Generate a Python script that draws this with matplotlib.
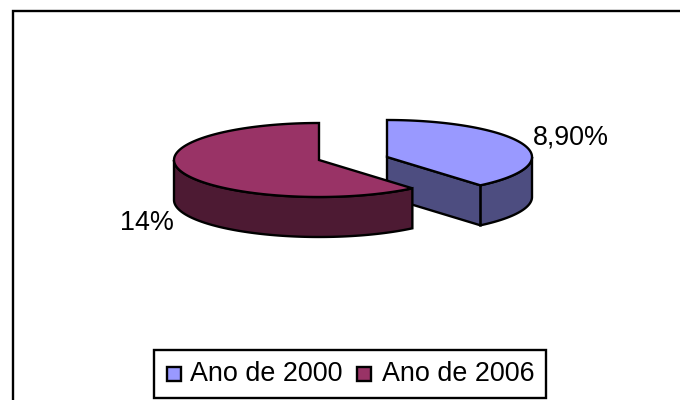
import numpy as np
import matplotlib
matplotlib.use('Agg')
import matplotlib.pyplot as plt
from matplotlib.patches import Polygon, Rectangle

plt.rcParams['font.family'] = ['Liberation Sans', 'DejaVu Sans']

# Data
categories = ['Ano de 2000', 'Ano de 2006']
values = [8.9, 14]
value_labels = ['8,90%', '14%']
top_colors = ['#9999ff', '#993366']
side_colors = ['#4d4d80', '#4d1a33']

W, H = 680, 400
RX, RY = 145, 37
DEPTH = 40
LW = 1.7
FONT = 19.4

fig = plt.figure(figsize=(W / 100, H / 100), dpi=100)
ax = fig.add_axes([0, 0, 1, 1])
ax.set_xlim(0, W)
ax.set_ylim(H, 0)
ax.axis('off')

# Outer frame, right and bottom edges fall outside the picture
ax.add_patch(Rectangle((13, 11), 700, 420, fc='white', ec='black', lw=LW))


def rim(cx, cy, a0, a1, n=120):
    # angles in degrees, clockwise from 12 o'clock
    t = np.radians(np.linspace(a0, a1, n))
    return np.column_stack([cx + RX * np.sin(t), cy - RY * np.cos(t)])


def draw_slice(cx, cy, a0, a1, top, side, z):
    c = (cx, cy)
    edge = rim(cx, cy, a0, a1)
    # outer wall, only the part facing the viewer (90..270 deg)
    lo, hi = max(a0, 90), min(a1, 270)
    if lo < hi:
        wall = rim(cx, cy, lo, hi)
        low = wall + [0, DEPTH]
        ax.add_patch(Polygon(np.vstack([wall, low[::-1]]), fc=side, ec='black', lw=LW, zorder=z))
    # cut face at the end of the slice, seen when it faces front
    if a1 < 180:
        p = rim(cx, cy, a1, a1, 1)[0]
        quad = [c, p, p + [0, DEPTH], (cx, cy + DEPTH)]
        ax.add_patch(Polygon(quad, fc=side, ec='black', lw=LW, zorder=z))
    ax.add_patch(Polygon(np.vstack([[c], edge]), fc=top, ec='black', lw=LW, zorder=z + 0.5))


total = sum(values)
angle = values[0] / total * 360
draw_slice(387, 157, 0, angle, top_colors[0], side_colors[0], 3)
draw_slice(319, 160, angle, 360, top_colors[1], side_colors[1], 4)

ax.text(533, 138, value_labels[0], fontsize=FONT, ha='left', va='center')
ax.text(120, 223, value_labels[1], fontsize=FONT, ha='left', va='center')

# Legend
ax.add_patch(Rectangle((154, 350), 392, 48, fc='white', ec='black', lw=LW, zorder=5))
for x_box, x_text, name, color in zip([167, 357], [190, 382], categories, top_colors):
    ax.add_patch(Rectangle((x_box, 367), 14, 14, fc=color, ec='black', lw=LW, zorder=6))
    ax.text(x_text, 374, name, fontsize=FONT, ha='left', va='center', zorder=6)

fig.savefig('out.png', dpi=100)
